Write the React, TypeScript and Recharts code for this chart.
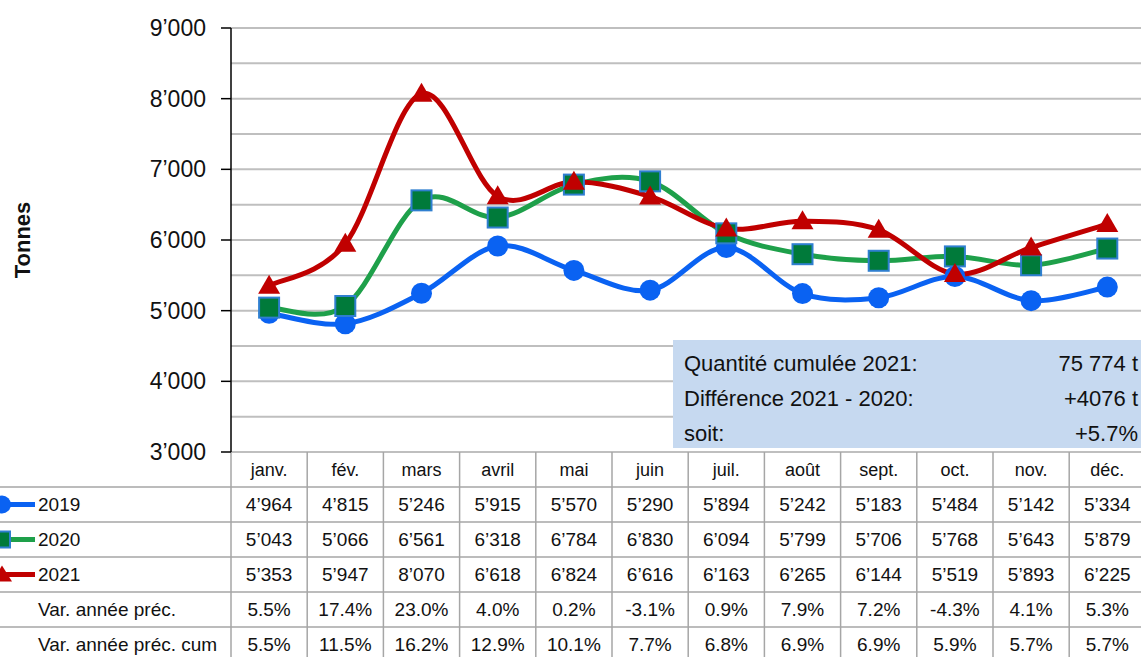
import React from "react";
import { LineChart, Line, XAxis, YAxis, CartesianGrid } from "recharts";

const months = ["janv.", "fév.", "mars", "avril", "mai", "juin", "juil.", "août", "sept.", "oct.", "nov.", "déc."];
const tonnes2019 = [4964, 4815, 5246, 5915, 5570, 5290, 5894, 5242, 5183, 5484, 5142, 5334];
const tonnes2020 = [5043, 5066, 6561, 6318, 6784, 6830, 6094, 5799, 5706, 5768, 5643, 5879];
const tonnes2021 = [5353, 5947, 8070, 6618, 6824, 6616, 6163, 6265, 6144, 5519, 5893, 6225];
const varYear = ["5.5%", "17.4%", "23.0%", "4.0%", "0.2%", "-3.1%", "0.9%", "7.9%", "7.2%", "-4.3%", "4.1%", "5.3%"];
const varCum = ["5.5%", "11.5%", "16.2%", "12.9%", "10.1%", "7.7%", "6.8%", "6.9%", "6.9%", "5.9%", "5.7%", "5.7%"];
const yTicks = [3000, 3500, 4000, 4500, 5000, 5500, 6000, 6500, 7000, 7500, 8000, 8500, 9000];

const summary = [
  ["Quantité cumulée 2021:", "75 774 t"],
  ["Différence 2021 - 2020:", "+4076 t"],
  ["soit:", "+5.7%"],
];

const BLUE = "#0a62f2";
const GREEN = "#1ea04a";
const GREEN_FILL = "#007a3a";
const RED = "#c00000";
const GRID = "#bfbfbf";
const TABLE_LINE = "#a6a6a6";
const FONT = "'Liberation Sans', Arial, sans-serif";

const PLOT_LEFT = 231;
const BAND = 76.2;
const TOP = 28;
const TABLE_TOP = 452;
const ROW = 35;
const LINE_W = 5;

const data = months.map((m, i) => ({
  month: m,
  y2019: tonnes2019[i],
  y2020: tonnes2020[i],
  y2021: tonnes2021[i],
}));

const fmt = (n: number) => `${Math.floor(n / 1000)}’${String(n % 1000).padStart(3, "0")}`;

// Excel-like smoothing: cubic bezier, control points at 1/6 of neighbour gap
const excelCurve = (context: any) => {
  let pts: number[][] = [];
  return {
    areaStart() {},
    areaEnd() {},
    lineStart() {
      pts = [];
    },
    point(x: number, y: number) {
      pts.push([+x, +y]);
    },
    lineEnd() {
      if (!pts.length) return;
      context.moveTo(pts[0][0], pts[0][1]);
      for (let i = 0; i < pts.length - 1; i++) {
        const p0 = pts[i - 1] || pts[i];
        const p1 = pts[i];
        const p2 = pts[i + 1];
        const p3 = pts[i + 2] || p2;
        context.bezierCurveTo(
          p1[0] + (p2[0] - p0[0]) / 6,
          p1[1] + (p2[1] - p0[1]) / 6,
          p2[0] - (p3[0] - p1[0]) / 6,
          p2[1] - (p3[1] - p1[1]) / 6,
          p2[0],
          p2[1]
        );
      }
    },
  };
};

const CircleDot = (props: any) => (
  <circle key={`c-${props.index}`} cx={props.cx} cy={props.cy} r={10.5} fill={BLUE} />
);

const SquareDot = (props: any) => (
  <rect
    key={`s-${props.index}`}
    x={props.cx - 10}
    y={props.cy - 10}
    width={20}
    height={20}
    fill={GREEN_FILL}
    stroke="#2f7fd0"
    strokeWidth={2}
  />
);

const TriangleDot = (props: any) => (
  <path
    key={`t-${props.index}`}
    d={`M${props.cx},${props.cy - 11} L${props.cx + 11},${props.cy + 8} L${props.cx - 11},${props.cy + 8} Z`}
    fill={RED}
  />
);

function YTick(props: any) {
  const v = props.payload.value;
  if (v % 1000 !== 0) return <g />;
  return (
    <g>
      <line x1={PLOT_LEFT - 10} x2={PLOT_LEFT} y1={props.y} y2={props.y} stroke="#000" strokeWidth={1.5} />
      <text x={206} y={props.y} dy={8} textAnchor="end" fontSize={23} fontFamily={FONT} fill="#111">
        {fmt(v)}
      </text>
    </g>
  );
}

function TableColumn(props: any) {
  const i = months.indexOf(props.payload.value);
  const cx = props.x;
  const l = cx - BAND / 2;
  const r = cx + BAND / 2;
  const cells = [months[i], fmt(tonnes2019[i]), fmt(tonnes2020[i]), fmt(tonnes2021[i]), varYear[i], varCum[i]];
  return (
    <g>
      {i === 0 && <line x1={l} x2={l} y1={TABLE_TOP} y2={TABLE_TOP + ROW * 6} stroke={TABLE_LINE} strokeWidth={1.5} />}
      <line x1={r} x2={r} y1={TABLE_TOP} y2={TABLE_TOP + ROW * 6} stroke={TABLE_LINE} strokeWidth={1.5} />
      {[1, 2, 3, 4, 5].map((k) => (
        <line key={k} x1={l} x2={r} y1={TABLE_TOP + ROW * k} y2={TABLE_TOP + ROW * k} stroke={TABLE_LINE} strokeWidth={1.5} />
      ))}
      {cells.map((c, k) => (
        <text
          key={k}
          x={cx}
          y={TABLE_TOP + ROW * k + ROW / 2}
          dy={6.5}
          textAnchor="middle"
          fontSize={k === 0 ? 18 : 19}
          fontFamily={FONT}
          fill="#111"
        >
          {c}
        </text>
      ))}
    </g>
  );
}

function Overlay() {
  const rowY = (k: number) => TABLE_TOP + ROW * k + ROW / 2;
  return (
    <svg width={1141} height={657} style={{ position: "absolute", left: 0, top: 0, pointerEvents: "none" }}>
      <text
        transform="translate(30,240) rotate(-90)"
        textAnchor="middle"
        fontSize={22}
        fontWeight="bold"
        fontFamily={FONT}
        fill="#111"
      >
        Tonnes
      </text>
      {[1, 2, 3, 4, 5].map((k) => (
        <line key={k} x1={0} x2={PLOT_LEFT} y1={TABLE_TOP + ROW * k} y2={TABLE_TOP + ROW * k} stroke={TABLE_LINE} strokeWidth={1.5} />
      ))}
      <line x1={0} x2={35} y1={rowY(1)} y2={rowY(1)} stroke={BLUE} strokeWidth={LINE_W} />
      <circle cx={2} cy={rowY(1)} r={9} fill={BLUE} />
      <line x1={0} x2={35} y1={rowY(2)} y2={rowY(2)} stroke={GREEN} strokeWidth={LINE_W} />
      <rect x={-6} y={rowY(2) - 8} width={16} height={16} fill={GREEN_FILL} stroke="#2f7fd0" strokeWidth={2} />
      <line x1={0} x2={35} y1={rowY(3)} y2={rowY(3)} stroke={RED} strokeWidth={LINE_W} />
      <path d={`M2,${rowY(3) - 9} L12,${rowY(3) + 7} L-8,${rowY(3) + 7} Z`} fill={RED} />
      {["2019", "2020", "2021", "Var. année préc.", "Var. année préc. cum"].map((t, k) => (
        <text key={t} x={38} y={rowY(k + 1)} dy={6.5} fontSize={19} fontFamily={FONT} fill="#111">
          {t}
        </text>
      ))}
      <rect x={673} y={340} width={470} height={108} fill="#c6d9f0" />
      {summary.map(([a, b], k) => (
        <g key={a}>
          <text x={684} y={363 + k * 35} dy={8} fontSize={22} fontFamily={FONT} fill="#111">
            {a}
          </text>
          <text x={1138} y={363 + k * 35} dy={8} textAnchor="end" fontSize={22} fontFamily={FONT} fill="#111">
            {b}
          </text>
        </g>
      ))}
    </svg>
  );
}

export default function App() {
  const width = Math.ceil(PLOT_LEFT + BAND * 12);
  return (
    <div style={{ position: "relative", width: 1141, height: 657, overflow: "hidden", background: "#fff" }}>
      <style>{"body{margin:0}"}</style>
      <LineChart
        width={width}
        height={680}
        data={data}
        margin={{ top: TOP, right: width - PLOT_LEFT - BAND * 12, bottom: 0, left: 0 }}
      >
        <CartesianGrid horizontal vertical={false} stroke={GRID} strokeWidth={2} />
        <XAxis
          dataKey="month"
          padding={{ left: BAND / 2, right: BAND / 2 }}
          axisLine={false}
          tickLine={false}
          tickSize={0}
          tickMargin={0}
          interval={0}
          height={680 - TABLE_TOP}
          tick={TableColumn}
        />
        <YAxis
          width={PLOT_LEFT}
          domain={[3000, 9000]}
          ticks={yTicks}
          interval={0}
          axisLine={{ stroke: "#000", strokeWidth: 1.5 }}
          tickLine={false}
          tick={YTick}
        />
        <Line dataKey="y2019" stroke={BLUE} strokeWidth={LINE_W} type={excelCurve as any} dot={CircleDot} isAnimationActive={false} />
        <Line dataKey="y2020" stroke={GREEN} strokeWidth={LINE_W} type={excelCurve as any} dot={SquareDot} isAnimationActive={false} />
        <Line dataKey="y2021" stroke={RED} strokeWidth={LINE_W} type={excelCurve as any} dot={TriangleDot} isAnimationActive={false} />
      </LineChart>
      <Overlay />
    </div>
  );
}
